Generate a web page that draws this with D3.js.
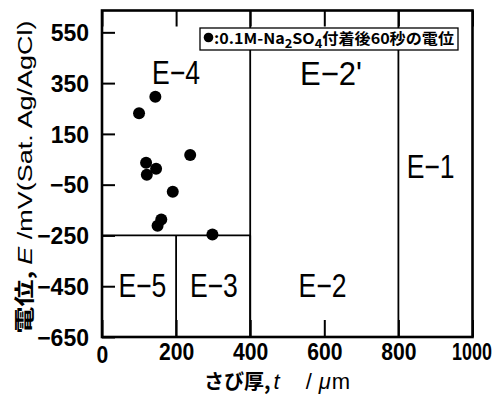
<!DOCTYPE html>
<html>
<head>
<meta charset="utf-8">
<script src="https://cdn.jsdelivr.net/npm/d3@7"></script>
<style>
  html, body { margin: 0; padding: 0; background: #fff; }
  svg { display: block; }
  text { fill: #000; }
</style>
</head>
<body>
<svg id="chart" width="496" height="395"></svg>
<script>
// Rust thickness (µm) and potential 60 s after 0.1M-Na2SO4 deposition (mV vs Sat. Ag/AgCl)
const thickness = [100, 144, 238, 119, 146, 121, 191, 160, 150, 298];
const potential = [231, 296, 67, 36, 13, -11, -78, -187, -212, -246];

const xTicks = [0, 200, 400, 600, 800, 1000];
const yTicks = [-650, -450, -250, -50, 150, 350, 550];

// Region boundaries in data units (t, E)
const boundaryT1 = [0, 400, 200, 400, 800];
const boundaryE1 = [-250, -650, -650, -650, -650];
const boundaryT2 = [400, 400, 200, 400, 800];
const boundaryE2 = [-250, -250, -250, 636, 636];

// Region names and their label anchors in data units
const regionNames = ["E-4", "E-2'", "E-1", "E-5", "E-3", "E-2"];
const regionT = [200, 618, 887, 109, 302, 595];
const regionE = [346, 342, -24, -492, -492, -492];

const svg = d3.select("#chart");
const plotL = 102, plotR = 472.5, plotT = 10.5, plotB = 337;

const x = d3.scaleLinear().domain([0, 1000]).range([plotL, plotR]);
const y = d3.scaleLinear().domain([-650, 636]).range([plotB, plotT]);

const font = "'Liberation Sans', Arial, sans-serif";
const cjk = "'Noto Sans CJK JP', 'Noto Sans', sans-serif";

// inward ticks on the left axis
const yAxis = d3.axisLeft(y).tickValues(yTicks).tickSize(-13).tickFormat(d3.format("d"));
const gy = svg.append("g").attr("transform", `translate(${plotL},0)`).call(yAxis);
gy.select(".domain").remove();
gy.selectAll(".tick line").attr("stroke", "#000").attr("stroke-width", 2);
gy.selectAll(".tick text")
  .attr("font-family", font).attr("font-size", 23).attr("font-weight", "bold")
  .attr("x", -13).attr("dy", "0.36em")
  .text(d => d < 0 ? "\u2212" + Math.abs(d) : d);

// inward ticks on the bottom axis; labels narrowed horizontally
const xAxis = d3.axisBottom(x).tickValues(xTicks).tickSize(-17).tickFormat(d3.format("d"));
const gx = svg.append("g").attr("transform", `translate(0,${plotB})`).call(xAxis);
gx.select(".domain").remove();
gx.selectAll(".tick line").attr("stroke", "#000").attr("stroke-width", 2);
gx.selectAll(".tick text")
  .attr("font-family", font).attr("font-size", 23).attr("font-weight", "bold")
  .attr("dy", 0)
  .attr("y", d => d === 0 ? 26 : 23)
  .attr("transform", d => d >= 1000 ? "translate(-1,0) scale(0.78,1)" : "scale(0.92,1)");

// inward ticks along the top edge
const xTop = d3.axisTop(x).tickValues(xTicks).tickSize(-16).tickFormat("");
const gt = svg.append("g").attr("transform", `translate(0,${plotT})`).call(xTop);
gt.select(".domain").remove();
gt.selectAll(".tick line").attr("stroke", "#000").attr("stroke-width", 2);

// region boundaries
svg.append("g").selectAll("line")
  .data(d3.range(boundaryT1.length))
  .join("line")
  .attr("x1", i => x(boundaryT1[i])).attr("y1", i => y(boundaryE1[i]))
  .attr("x2", i => x(boundaryT2[i])).attr("y2", i => y(boundaryE2[i]))
  .attr("stroke", "#000").attr("stroke-width", 1.8);

// plot frame
svg.append("rect")
  .attr("x", plotL).attr("y", plotT)
  .attr("width", plotR - plotL).attr("height", plotB - plotT)
  .attr("fill", "none").attr("stroke", "#000").attr("stroke-width", 2.6);

// region labels
svg.append("g").selectAll("text")
  .data(d3.range(regionNames.length))
  .join("text")
  .attr("x", i => x(regionT[i])).attr("y", i => y(regionE[i]))
  .attr("text-anchor", "middle")
  .attr("font-family", font).attr("font-size", 33)
  .attr("textLength", i => regionNames[i].length === 4 ? 62 : 48)
  .attr("lengthAdjust", "spacingAndGlyphs")
  .text(i => regionNames[i].replace("-", "\u2212"));

// measured points
svg.append("g").selectAll("circle")
  .data(d3.range(thickness.length))
  .join("circle")
  .attr("cx", i => x(thickness[i])).attr("cy", i => y(potential[i]))
  .attr("r", 6).attr("fill", "#000");

// legend
const lg = svg.append("g");
lg.append("rect").attr("x", 200).attr("y", 28).attr("width", 258).attr("height", 22)
  .attr("fill", "#fff").attr("stroke", "#000").attr("stroke-width", 1.3);
lg.append("circle").attr("cx", 208.5).attr("cy", 37.5).attr("r", 4.8).attr("fill", "#000");
const lt = lg.append("text").attr("x", 214).attr("y", 44)
  .attr("font-family", cjk).attr("font-size", 15).attr("font-weight", "bold")
  .attr("textLength", 240).attr("lengthAdjust", "spacingAndGlyphs");
lt.append("tspan").text(":0.1M-Na");
lt.append("tspan").attr("font-size", 12).attr("dy", 4).text("2");
lt.append("tspan").attr("dy", -4).text("SO");
lt.append("tspan").attr("font-size", 12).attr("dy", 4).text("4");
lt.append("tspan").attr("dy", -4).text("付着後60秒の電位");

// axis titles
const xt = svg.append("text").attr("x", 204).attr("y", 389)
  .attr("font-family", cjk)
  .attr("font-size", 20).attr("font-weight", "bold");
xt.append("tspan").text("さび厚,");
xt.append("tspan").attr("dx", 3).attr("font-family", font).attr("font-style", "italic").attr("font-weight", "normal").attr("font-size", 22).text("t");
xt.append("tspan").attr("dx", 26).attr("font-family", font).attr("font-weight", "normal").attr("font-size", 22).text("/");
xt.append("tspan").attr("dx", 7).attr("font-family", font).attr("font-style", "italic").attr("font-weight", "normal").attr("font-size", 22).text("\u03bc");
xt.append("tspan").attr("dx", 1).attr("font-family", font).attr("font-weight", "normal").attr("font-size", 22).text("m");

const yt = svg.append("text")
  .attr("transform", "translate(32,177) rotate(-90)")
  .attr("text-anchor", "middle").attr("font-family", cjk)
  .attr("font-size", 20).attr("font-weight", "bold")
  .attr("textLength", 313).attr("lengthAdjust", "spacingAndGlyphs");
yt.append("tspan").text("電位, ");
yt.append("tspan").attr("font-family", font).attr("font-style", "italic").attr("font-weight", "normal").text("E");
yt.append("tspan").attr("font-family", font).attr("font-weight", "normal").text(" /mV(Sat. Ag/AgCl)");
</script>
</body>
</html>
